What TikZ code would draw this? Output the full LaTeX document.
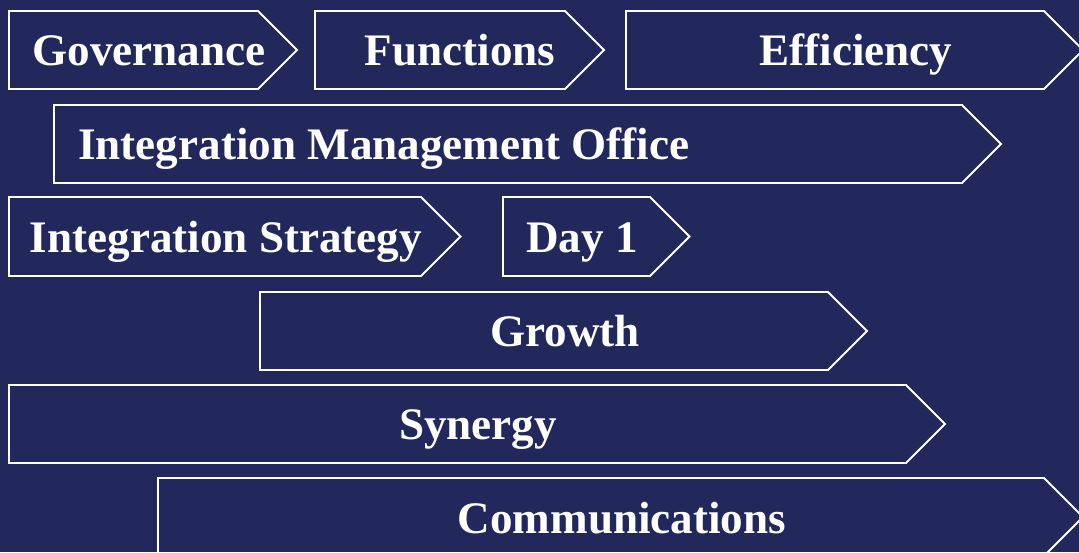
\documentclass[tikz,border=0pt]{standalone}
\usepackage{fontspec}
\setmainfont{Liberation Serif}
\usepackage{tikz}
\definecolor{bg_navy}{RGB}{35,40,92}
% chevron: left, shoulder, top, bottom
\newcommand{\chevbox}[4]{%
  \draw[chev] (#1,#3) -- (#2,#3) -- ({#2+(#4-#3)/2},{(#3+#4)/2}) -- (#2,#4) -- (#1,#4) -- cycle;}

\begin{document}
\begin{tikzpicture}[x=0.03cm,y=-0.03cm]
    \tikzstyle{chev}=[draw=white, line width=1.6pt]
    \tikzstyle{lbl}=[text=white, inner sep=0pt, anchor=base, font=\fontsize{38.5}{42}\selectfont\bfseries]

    \fill[bg_navy] (0,0) rectangle (1079,552);
    \useasboundingbox (0,0) rectangle (1079,552);

    \chevbox{9}{258}{11}{89}
    \chevbox{315}{565}{11}{89}
    \chevbox{626}{1044}{11}{89}
    \chevbox{54}{962}{105}{183}
    \chevbox{9}{421}{197}{276}
    \chevbox{503}{650}{197}{276}
    \chevbox{260}{828}{292}{370}
    \chevbox{9}{906}{385}{463}
    \chevbox{158}{1044}{478}{556}

    \node[lbl] (gov)  at (149,65)  {Governance};
    \node[lbl] (fun)  at (460,65)  {Functions};
    \node[lbl] (eff)  at (856,65)  {Efficiency};
    \node[lbl, anchor=base west] (imo) at (78,159) {Integration Management Office};
    \node[lbl] (strat) at (226,252) {Integration Strategy};
    \node[lbl] (day)  at (582,252) {Day 1};
    \node[lbl] (grow) at (565,346) {Growth};
    \node[lbl] (syn)  at (478,439) {Synergy};
    \node[lbl] (comm) at (622,533) {Communications};
  \end{tikzpicture}
\end{document}
